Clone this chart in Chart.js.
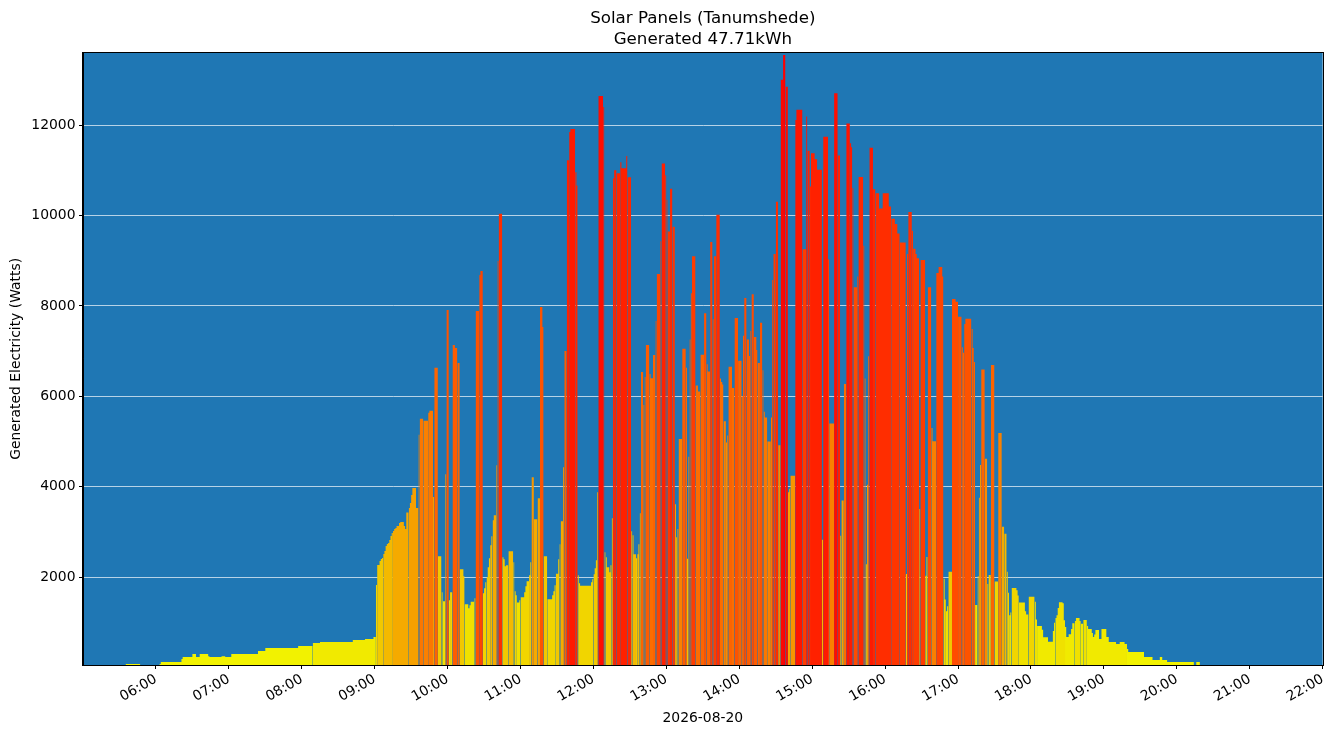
<!DOCTYPE html>
<html>
<head>
<meta charset="utf-8">
<title>Solar Panels (Tanumshede)</title>
<script src="https://cdn.jsdelivr.net/npm/chart.js@4.4.1/dist/chart.umd.min.js"></script>
<style>
  html, body { margin: 0; padding: 0; background: #ffffff; }
  canvas { display: block; }
</style>
</head>
<body>
<canvas id="chart" width="1333" height="736"></canvas>
<script>
// Samples: each value holds until the next timestamp (minute data)
const times = [
  "05:35","05:47","06:03","06:04","06:21","06:22","06:30","06:33","06:36","06:43",
  "06:44","06:54","06:57","07:02","07:24","07:30","07:57","08:09","08:15","08:42",
  "08:52","08:59","09:01","09:02","09:04","09:05","09:06","09:07","09:08","09:09",
  "09:10","09:11","09:12","09:13","09:14","09:15","09:16","09:17","09:18","09:20",
  "09:21","09:24","09:25","09:26","09:28","09:29","09:30","09:31","09:34","09:36",
  "09:37","09:40","09:44","09:45","09:48","09:49","09:52","09:55","09:56","09:58",
  "09:59","10:01","10:02","10:04","10:06","10:08","10:10","10:13","10:14","10:17",
  "10:18","10:19","10:22","10:23","10:26","10:27","10:29","10:30","10:31","10:32",
  "10:33","10:34","10:35","10:36","10:37","10:38","10:40","10:41","10:42","10:45",
  "10:46","10:47","10:48","10:50","10:54","10:55","10:56","10:57","10:59","11:00",
  "11:03","11:04","11:05","11:07","11:08","11:09","11:11","11:14","11:16","11:18",
  "11:19","11:22","11:26","11:27","11:28","11:29","11:31","11:32","11:33","11:35",
  "11:36","11:38","11:40","11:41","11:45","11:46","11:47","11:48","11:49","11:58",
  "11:59","12:00","12:01","12:02","12:03","12:04","12:08","12:09","12:10","12:11",
  "12:13","12:14","12:15","12:16","12:17","12:19","12:22","12:23","12:27","12:28",
  "12:31","12:32","12:33","12:35","12:36","12:37","12:38","12:39","12:41","12:42",
  "12:43","12:46","12:47","12:49","12:51","12:52","12:55","12:56","12:59","13:00",
  "13:01","13:03","13:05","13:07","13:08","13:09","13:10","13:13","13:16","13:17",
  "13:18","13:19","13:20","13:21","13:24","13:26","13:28","13:31","13:33","13:34",
  "13:36","13:38","13:39","13:41","13:44","13:45","13:46","13:47","13:49","13:50",
  "13:51","13:54","13:56","13:59","14:02","14:03","14:04","14:06","14:08","14:09",
  "14:10","14:12","14:14","14:15","14:17","14:19","14:20","14:21","14:23","14:26",
  "14:27","14:28","14:30","14:32","14:34","14:36","14:38","14:40","14:41","14:42",
  "14:46","14:47","14:52","14:55","14:56","14:58","14:59","15:02","15:04","15:08",
  "15:09","15:13","15:14","15:18","15:21","15:23","15:24","15:26","15:28","15:31",
  "15:32","15:33","15:34","15:37","15:38","15:42","15:43","15:44","15:45","15:46",
  "15:47","15:50","15:52","15:55","15:58","16:03","16:05","16:08","16:10","16:12",
  "16:17","16:18","16:19","16:22","16:23","16:25","16:26","16:28","16:29","16:33",
  "16:34","16:35","16:38","16:39","16:42","16:44","16:47","16:48","16:49","16:50",
  "16:51","16:52","16:55","16:58","17:00","17:03","17:04","17:05","17:06","17:11",
  "17:12","17:13","17:14","17:16","17:17","17:18","17:19","17:22","17:24","17:25",
  "17:27","17:30","17:33","17:36","17:38","17:40","17:41","17:42","17:43","17:44",
  "17:48","17:49","17:50","17:55","17:56","17:58","18:03","18:04","18:05","18:09",
  "18:10","18:14","18:18","18:19","18:20","18:21","18:22","18:23","18:26","18:27",
  "18:28","18:29","18:31","18:33","18:34","18:36","18:37","18:40","18:41","18:43",
  "18:46","18:47","18:50","18:51","18:52","18:53","18:56","18:58","19:02","19:04",
  "19:10","19:13","19:17","19:19","19:20","19:33","19:40","19:46","19:48","19:52",
  "20:14","20:16","20:19"
];
const watts = [
  80,0,80,125,191,235,302,235,302,255,
  235,255,235,302,368,435,479,546,568,612,
  634,678,1830,2272,2361,2405,2427,2516,2582,2693,
  2737,2759,2826,2914,2980,3025,3069,3091,3136,3202,
  3224,3136,3069,3430,3534,3644,3822,3977,3534,5150,
  5505,5461,5637,5682,3778,6634,2465,1668,1469,4280,
  7911,1491,1668,7136,7070,6738,2177,2022,1402,1314,
  1380,1460,1535,7889,8686,8775,1646,1756,1889,2000,
  2221,2421,2708,2908,3262,3373,4480,8996,10037,2443,
  2399,2244,2266,2576,2332,1690,1601,1440,1491,1557,
  1668,1801,1911,2044,2332,4214,3284,3749,7978,7535,
  2465,1513,1601,1690,1823,2080,2399,2731,3240,4435,
  7004,11225,11845,11911,10959,10664,2044,1867,1810,1889,
  1956,2066,2199,2376,3882,12642,12399,2554,2443,2221,
  2111,2266,3306,10827,11004,10937,11181,11048,11314,10849,
  3018,2930,2509,2421,2509,2731,3417,6539,5808,6428,
  7136,6494,6400,6915,7668,8708,9432,11151,10893,10347,
  9648,10591,9752,3617,2883,3066,5059,7052,6632,2411,
  4666,7261,8284,9097,6239,6108,6921,7838,6711,6553,
  9412,7707,9097,10015,6396,6318,6265,5452,4980,5138,
  6658,6186,7733,6789,6003,7340,8179,7261,6894,7445,
  8258,7314,7026,6737,7629,6580,5662,5531,5000,5531,
  8572,9149,10303,4920,13003,13550,12846,3879,3958,4246,
  12112,12340,9254,12191,11430,10644,11378,11247,11011,2830,
  11745,9027,5400,12707,11325,2918,3696,6274,12034,11597,
  11509,10609,8415,8650,10850,9333,6396,2288,4045,6886,
  11500,10583,10495,10154,10495,10198,9927,9814,9604,9403,
  2070,9149,10076,9665,9263,9149,9053,3512,9018,2035,
  2446,8415,5304,5007,8730,8861,8650,1965,1510,1248,
  1362,2122,8153,8092,7760,7087,6964,7603,7717,7489,
  7069,6763,1388,2026,3757,4482,6597,4622,1851,2052,
  6693,1904,5190,3119,2961,2122,1659,1161,1222,1764,
  1712,1598,1441,1248,1178,1572,1458,1065,925,838,
  672,575,811,995,1100,1161,1318,1449,1423,1047,
  899,681,741,855,986,1033,1100,1033,975,1055,
  922,856,767,679,735,834,635,856,679,568,
  524,568,524,413,347,236,170,236,170,125,
  0,125,0
];
const yTickValues = [2000, 4000, 6000, 8000, 10000, 12000];
const xTickHours = [6, 7, 8, 9, 10, 11, 12, 13, 14, 15, 16, 17, 18, 19, 20, 21, 22];

const toMinutes = (s) => {
  const [h, m] = s.split(":").map(Number);
  return h * 60 + m;
};
const pad = (n) => String(n).padStart(2, "0");

// yellow -> orange -> red, stepped in 500 W bins
const colorStops = [
  [0, [242, 242, 0]], [1000, [240, 225, 0]], [2000, [242, 200, 0]],
  [3000, [245, 170, 0]], [4000, [247, 150, 0]], [5000, [250, 128, 0]],
  [6500, [253, 100, 0]], [8000, [255, 75, 0]], [10000, [255, 45, 0]],
  [12000, [255, 20, 0]], [13500, [255, 0, 0]]
];
function colorFor(v) {
  const b = Math.floor(v / 500) * 500;
  for (let i = 1; i < colorStops.length; i++) {
    const [v1, c1] = colorStops[i];
    const [v0, c0] = colorStops[i - 1];
    if (b <= v1) {
      const f = (b - v0) / (v1 - v0);
      const c = c0.map((x, k) => Math.round(x + (c1[k] - x) * f));
      return `rgb(${c[0]},${c[1]},${c[2]})`;
    }
  }
  return "rgb(255,0,0)";
}

const points = times.map((t, i) => ({ x: toMinutes(t), y: watts[i] }));

const plotFrame = {
  id: "plotFrame",
  afterLayout(chart) {
    // centre the title over the axes, like matplotlib does
    const tb = chart.titleBlock;
    if (tb) {
      tb.left = chart.chartArea.left;
      tb.right = chart.chartArea.right;
      tb.width = tb.right - tb.left;
    }
  },
  beforeDraw(chart) {
    const { ctx, chartArea: a } = chart;
    ctx.save();
    ctx.fillStyle = "#1f77b4";
    ctx.fillRect(a.left, a.top, a.right - a.left, a.bottom - a.top);
    ctx.restore();
  },
  afterDraw(chart) {
    const { ctx, chartArea: a } = chart;
    ctx.save();
    ctx.strokeStyle = "#000000";
    ctx.lineWidth = 1;
    ctx.strokeRect(Math.round(a.left) - 0.5, Math.round(a.top) - 0.5,
      Math.round(a.right - a.left) + 1, Math.round(a.bottom - a.top) + 1);
    ctx.restore();
  }
};

Chart.defaults.font.family = "'DejaVu Sans', sans-serif";
Chart.defaults.color = "#000000";

new Chart(document.getElementById("chart"), {
  type: "line",
  data: {
    datasets: [{
      data: points,
      stepped: true,
      fill: "origin",
      borderWidth: 0,
      pointRadius: 0,
      backgroundColor: "#f2f200",
      segment: {
        backgroundColor: (ctx) => colorFor(ctx.p0.parsed.y)
      }
    }]
  },
  options: {
    responsive: false,
    animation: false,
    devicePixelRatio: 1,
    layout: { padding: { left: 0, right: 10, top: 0, bottom: 0 } },
    plugins: {
      legend: { display: false },
      tooltip: { enabled: false },
      title: {
        display: true,
        text: ["Solar Panels (Tanumshede)", "Generated 47.71kWh"],
        font: { size: 16.7, weight: "normal", lineHeight: 1.25 },
        color: "#000000",
        padding: { top: 8, bottom: 3 }
      }
    },
    scales: {
      x: {
        type: "linear",
        min: 300,
        max: 1320,
        afterBuildTicks: (scale) => {
          scale.ticks = xTickHours.map((h) => ({ value: h * 60 }));
        },
        afterFit: (scale) => { scale.height = 71; },
        ticks: {
          autoSkip: false,
          minRotation: 30,
          maxRotation: 30,
          padding: 2,
          font: { size: 13.9 },
          callback: (v) => pad(Math.floor(v / 60)) + ":" + pad(v % 60)
        },
        grid: {
          drawOnChartArea: false,
          drawTicks: true,
          tickLength: 4,
          tickColor: "#000000",
          tickWidth: 1
        },
        border: { display: true, color: "#000000" },
        title: {
          display: true,
          text: "2026-08-20",
          font: { size: 13.9 },
          padding: { top: 0, bottom: 9.7 }
        }
      },
      y: {
        type: "linear",
        min: 60,
        max: 13600,
        z: 1,
        afterBuildTicks: (scale) => {
          scale.ticks = yTickValues.map((v) => ({ value: v }));
        },
        afterFit: (scale) => { scale.width = 83; },
        ticks: {
          padding: 3.5,
          font: { size: 13.9 },
          callback: (v) => String(v)
        },
        grid: {
          color: "rgba(255,255,255,0.85)",
          lineWidth: 0.8,
          tickLength: 4,
          tickColor: "#000000",
          tickWidth: 1
        },
        border: { display: true, color: "#000000" },
        title: {
          display: true,
          text: "Generated Electricity (Watts)",
          font: { size: 13.9 },
          padding: { top: 8, bottom: 0 }
        }
      }
    }
  },
  plugins: [plotFrame]
});
</script>
</body>
</html>
